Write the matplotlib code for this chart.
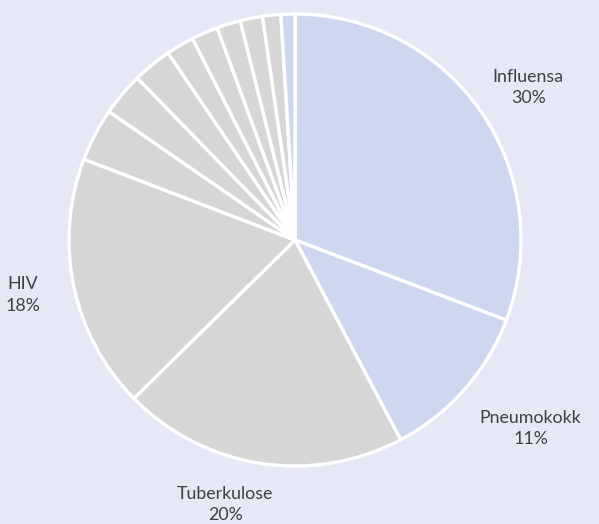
import numpy as np
import matplotlib.pyplot as plt

plt.rcParams['font.family'] = ['Lato', 'DejaVu Sans']

# shares in percent, clockwise from 12 o'clock
names = ['Influensa', 'Pneumokokk', 'Tuberkulose', 'HIV',
         '', '', '', '', '', '', '', '', '']
shares = [30.8, 11.5, 20.4, 18.2,
          3.8, 3.1, 2.8, 2.0, 1.9, 1.7, 1.6, 1.3, 1.0]
groups = ['blue', 'blue', 'grey', 'grey',
          'grey', 'grey', 'grey', 'grey', 'grey', 'grey', 'grey', 'grey', 'blue']

BG = '#e6e9f5'
COLORS = {'blue': '#cdd8f0', 'grey': '#d6d6d6'}

W, H = 599, 524
fig = plt.figure(figsize=(W / 100, H / 100), dpi=100, facecolor=BG)
cx, cy, r = 295, 240, 226
ax = fig.add_axes([(cx - r) / W, (H - cy - r) / H, 2 * r / W, 2 * r / H])
ax.set_facecolor(BG)

labels = ['%s\n%d%%' % (n, int(s)) if n else '' for n, s in zip(names, shares)]
wedges, texts = ax.pie(shares, labels=labels, colors=[COLORS[g] for g in groups],
                       startangle=90, counterclock=False, radius=1,
                       labeldistance=1.23,
                       wedgeprops=dict(edgecolor='white', linewidth=2.4),
                       textprops=dict(fontsize=12.8, color='#404040',
                                      ha='center', va='center',
                                      linespacing=1.45))

# nudge labels to where the original layout put them
for t, n in zip(texts, names):
    x, y = t.get_position()
    if n == 'Influensa':
        t.set_position((x + 0.02, y - 0.024))
    elif n == 'Pneumokokk':
        t.set_position((x + 0.12, y - 0.02))
    elif n == 'Tuberkulose':
        t.set_position((x - 0.12, y + 0.045))
    elif n == 'HIV':
        t.set_position((x, y + 0.008))

ax.set_xlim(-1, 1)
ax.set_ylim(-1, 1)
ax.set_aspect('equal')
ax.axis('off')

fig.savefig('out.png', dpi=100, facecolor=BG)
